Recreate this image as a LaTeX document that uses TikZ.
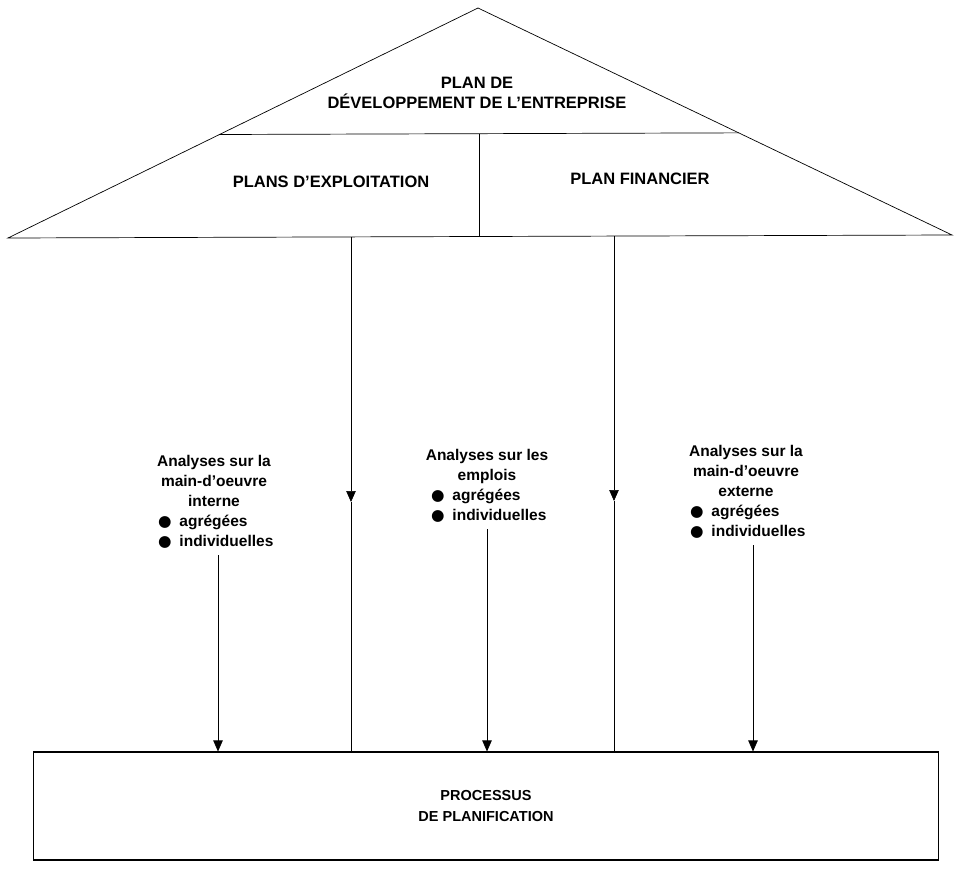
\documentclass[tikz,border=0pt]{standalone}
\usepackage{fontspec}
\setmainfont{Liberation Sans}
\newfontfamily\symfont{DejaVu Sans}
\usetikzlibrary{arrows.meta,calc}
\newcommand{\puce}[1]{\makebox[7.2em][l]{{\symfont ●}\hspace{0.5em}#1}}

\begin{document}
\begin{tikzpicture}[x=1pt,y=-1pt,line width=0.7pt,
    every node/.style={font=\bfseries\fontsize{15.5}{20}\selectfont},
    roof/.style={font=\bfseries\fontsize{16.5}{19.5}\selectfont,align=center},
    note/.style={align=center,inner sep=0pt},
    flow/.style={-{Triangle[width=9.5pt,length=11pt]}}]
  \useasboundingbox (0,0) rectangle (956,870);
  % toit
  \coordinate (apex) at (478,8);
  \coordinate (bl) at (8,238);
  \coordinate (br) at (952,235);
  \coordinate (il) at ($(bl)!0.45!(apex)$);
  \coordinate (ir) at ($(br)!0.45!(apex)$);
  \draw (bl) -- (apex) -- (br) -- cycle;
  \draw (il) -- (ir);
  \coordinate (dt) at ($(il)!0.5!(ir)$);
  \coordinate (db) at ($(bl)!0.5!(br)$);
  \draw (dt) -- (dt |- db);
  \node[roof] (dev) at (477,93) {PLAN DE\\DÉVELOPPEMENT DE L'ENTREPRISE};
  \node[roof] (expl) at (331,182) {PLANS D'EXPLOITATION};
  \node[roof] (fin) at (640,179) {PLAN FINANCIER};
  % processus
  \node[draw,line width=1.1pt,minimum width=905pt,minimum height=108pt,
    align=center,font=\bfseries\fontsize{14.5}{21}\selectfont]
    (proc) at (486,806) {PROCESSUS\\DE PLANIFICATION};
  % analyses
  \node[note] (intl) at (214,502)
    {Analyses sur la\\main-d'oeuvre\\interne\\\puce{agrégées}\\\puce{individuelles}};
  \node[note] (empl) at (487,486)
    {Analyses sur les\\emplois\\\puce{agrégées}\\\puce{individuelles}};
  \node[note] (extl) at (746,492)
    {Analyses sur la\\main-d'oeuvre\\externe\\\puce{agrégées}\\\puce{individuelles}};
  \coordinate (a1) at (218,555);
  \coordinate (a2) at (487,529);
  \coordinate (a3) at (753,545);
  \foreach \c in {a1,a2,a3}{\draw[flow] (\c) -- (\c |- proc.north);}
  % liaisons du toit
  \coordinate (r1) at (351,237);
  \coordinate (r2) at (614,236);
  \foreach \c in {r1,r2}{
    \coordinate (\c m) at ($(\c)+(0,265)$);
    \draw[flow] (\c) -- (\c m);
    \draw (\c m) -- (\c m |- proc.north);}
\end{tikzpicture}
\end{document}
